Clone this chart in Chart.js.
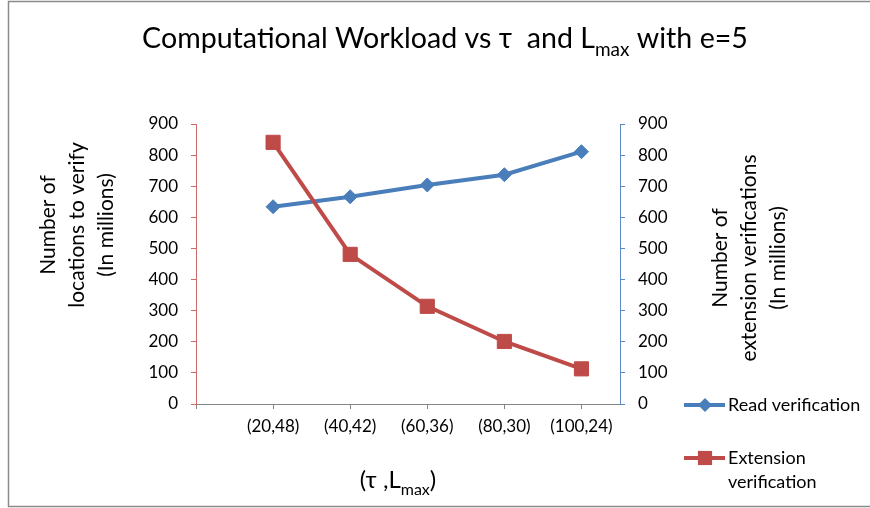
<!DOCTYPE html>
<html><head><meta charset="utf-8">
<script src="https://cdn.jsdelivr.net/npm/chart.js@4/dist/chart.umd.min.js"></script>
<style>html,body{margin:0;padding:0;background:#fff}#wrap{width:870px;height:508px;position:relative}</style>
</head><body><div id="wrap"><canvas id="c" width="870" height="508"></canvas></div>
<script>
const categories = ['(20,48)', '(40,42)', '(60,36)', '(80,30)', '(100,24)'];
const readVerification = [634, 666, 704, 737, 811];
const extensionVerification = [841, 481, 314, 201, 113];
const seriesNames = ['Read verification', 'Extension verification'];
const yMin = 0, yMax = 900, yStep = 100;

const FONT = 'Lato, "Open Sans", sans-serif';
const BLUE = '#4A7EBB';
const RED = '#BE4B48';
const AXIS_RED = '#D06A68';
const AXIS_BLUE = '#5B8BC6';
const GRAY = '#868686';

function drawParts(ctx, parts, cx, y, size, align) {
  const subSize = Math.round(size * 0.66);
  let total = 0;
  parts.forEach(p => {
    ctx.font = (p.sub ? subSize : size) + 'px ' + FONT;
    p.w = ctx.measureText(p.t).width;
    total += p.w;
  });
  let x = align === 'center' ? cx - total / 2 : cx;
  ctx.textAlign = 'left';
  parts.forEach(p => {
    ctx.font = (p.sub ? subSize : size) + 'px ' + FONT;
    ctx.fillText(p.t, x, p.sub ? y + size * 0.28 : y);
    x += p.w;
  });
}

const decor = {
  id: 'decor',
  beforeDraw(chart) {
    const ctx = chart.ctx;
    ctx.save();
    ctx.fillStyle = '#fff';
    ctx.fillRect(0, 0, chart.width, chart.height);
    ctx.strokeStyle = '#8a8a8a';
    ctx.lineWidth = 1.5;
    ctx.strokeRect(8.5, 1.5, 900, 505);
    ctx.restore();
  },
  afterDraw(chart) {
    const ctx = chart.ctx;
    ctx.save();
    ctx.fillStyle = '#000';
    ctx.textBaseline = 'alphabetic';
    // Title
    drawParts(ctx, [
      {t: 'Computational Workload vs \u03C4  and L'}, {t: 'max', sub: true}, {t: ' with e=5'}
    ], 445, 48, 28.6, 'center');
    // X axis title
    drawParts(ctx, [{t: '(\u03C4 ,L'}, {t: 'max', sub: true}, {t: ')'}], 398, 488, 24, 'center');
    // Y titles
    ctx.font = '21px ' + FONT;
    ctx.textAlign = 'center';
    ctx.textBaseline = 'middle';
    const leftLines = ['Number of', 'locations to verify', '(In millions)'];
    leftLines.forEach((l, i) => {
      ctx.save();
      ctx.translate(48 + i * 29, 225);
      ctx.rotate(-Math.PI / 2);
      ctx.fillText(l, 0, 0);
      ctx.restore();
    });
    const rightLines = ['Number of', 'extension verifications', '(In millions)'];
    rightLines.forEach((l, i) => {
      ctx.save();
      ctx.translate(720 + i * 29, 258);
      ctx.rotate(-Math.PI / 2);
      ctx.fillText(l, 0, 0);
      ctx.restore();
    });
    // Legend
    const ds = chart.data.datasets;
    const items = [
      {d: ds[0], y: 405, lines: ['Read verification']},
      {d: ds[1], y: 458, lines: ['Extension', 'verification']}
    ];
    items.forEach(it => {
      ctx.strokeStyle = it.d.borderColor;
      ctx.lineWidth = it.d.borderWidth;
      ctx.beginPath();
      ctx.moveTo(684, it.y);
      ctx.lineTo(725, it.y);
      ctx.stroke();
      ctx.fillStyle = it.d.backgroundColor;
      const cx = 705;
      ctx.beginPath();
      if (it.d.pointStyle === 'rectRot') {
        const r = it.d.pointRadius;
        ctx.moveTo(cx - r, it.y); ctx.lineTo(cx, it.y - r); ctx.lineTo(cx + r, it.y); ctx.lineTo(cx, it.y + r);
        ctx.closePath();
      } else {
        const s = it.d.pointRadius * Math.SQRT1_2;
        ctx.rect(cx - s, it.y - s, 2 * s, 2 * s);
      }
      ctx.fill();
      ctx.fillStyle = '#000';
      ctx.font = '18px ' + FONT;
      ctx.textAlign = 'left';
      ctx.textBaseline = 'middle';
      it.lines.forEach((l, j) => ctx.fillText(l, 728, it.y + j * 24));
    });
    ctx.restore();
  }
};

const tickFont = {family: FONT, size: 17};

new Chart(document.getElementById('c'), {
  type: 'line',
  data: {
    datasets: [
      {
        label: seriesNames[0],
        data: readVerification.map((v, i) => ({x: i + 1, y: v})),
        borderColor: BLUE, backgroundColor: BLUE, borderWidth: 4,
        pointStyle: 'rectRot', pointRadius: 7, pointBorderWidth: 1,
        tension: 0, yAxisID: 'y', order: 1
      },
      {
        label: seriesNames[1],
        data: extensionVerification.map((v, i) => ({x: i + 1, y: v})),
        borderColor: RED, backgroundColor: RED, borderWidth: 4,
        pointStyle: 'rect', pointRadius: 10, pointBorderWidth: 1,
        tension: 0, yAxisID: 'y2', order: 0
      }
    ]
  },
  options: {
    responsive: false,
    animation: false,
    devicePixelRatio: 1,
    layout: {padding: {top: 124, left: 0, right: 0, bottom: 0}},
    plugins: {legend: {display: false}, title: {display: false}, tooltip: {enabled: false}},
    scales: {
      x: {
        type: 'linear', min: 0, max: categories.length + 0.5,
        afterBuildTicks: s => { s.ticks = [0, ...categories.map((c, i) => i + 1)].map(v => ({value: v})); },
        ticks: {
          callback: v => categories[v - 1] || '',
          font: tickFont, color: '#000', padding: 7, maxRotation: 0, autoSkip: false
        },
        grid: {display: true, drawOnChartArea: false, drawTicks: true, tickLength: 5, color: GRAY},
        border: {display: true, color: GRAY, width: 1},
        afterFit: s => { s.height = 104; }
      },
      y: {
        position: 'left', min: yMin, max: yMax,
        ticks: {stepSize: yStep, font: tickFont, color: '#000', padding: 13},
        grid: {display: true, drawOnChartArea: false, drawTicks: true, tickLength: 5, color: AXIS_RED},
        border: {display: true, color: AXIS_RED, width: 1},
        afterFit: s => { s.width = 196; }
      },
      y2: {
        position: 'right', min: yMin, max: yMax,
        ticks: {stepSize: yStep, font: tickFont, color: '#000', padding: 13},
        grid: {display: true, drawOnChartArea: false, drawTicks: true, tickLength: 5, color: AXIS_BLUE},
        border: {display: true, color: AXIS_BLUE, width: 1},
        afterFit: s => { s.width = 250; }
      }
    }
  },
  plugins: [decor]
});
</script></body></html>
